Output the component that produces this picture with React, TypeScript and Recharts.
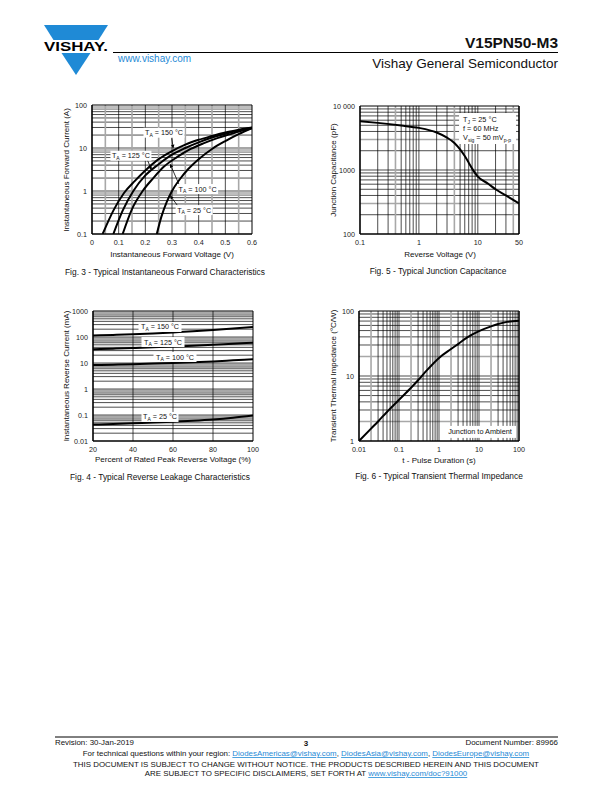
import React from 'react';
import { LineChart, Line, XAxis, YAxis, ReferenceLine, ReferenceDot } from 'recharts';

const FONT = '"Liberation Sans", Arial, Helvetica, sans-serif';
const BLUE = '#1f8ad6';
const GRAY = '#a8a8a8';

// ---------- Fig. 3 : forward characteristics ----------
const f3Volt150 = [0.04, 0.08, 0.12, 0.16, 0.2, 0.25, 0.3, 0.35, 0.4, 0.45, 0.5, 0.55, 0.6];
const f3Amp150 = [0.1, 0.35, 0.9, 1.7, 3, 5.5, 8.5, 12, 15.5, 19, 23, 26.5, 30];
const f3Volt125 = [0.08, 0.115, 0.155, 0.2, 0.25, 0.3, 0.35, 0.4, 0.45, 0.5, 0.55, 0.6];
const f3Amp125 = [0.1, 0.35, 1, 2.3, 4.2, 7, 10, 13.5, 17.5, 21.5, 25.5, 29.5];
const f3Volt100 = [0.115, 0.15, 0.19, 0.23, 0.27, 0.32, 0.37, 0.42, 0.47, 0.52, 0.56, 0.6];
const f3Amp100 = [0.1, 0.38, 1, 2, 3.7, 6.2, 9.5, 13, 17, 21, 25, 29];
const f3Volt25 = [0.243, 0.26, 0.28, 0.3, 0.33, 0.36, 0.4, 0.45, 0.5, 0.55, 0.6];
const f3Amp25 = [0.1, 0.25, 0.55, 1.0, 1.9, 3.2, 5.5, 9.5, 14.5, 21, 29];
const f3XTicks = [0, 0.1, 0.2, 0.3, 0.4, 0.5, 0.6];
const f3YTicks = [0.1, 1, 10, 100];
const f3HBlack = [0.2, 0.3, 0.4, 0.5, 0.6, 0.7, 1, 2, 3, 4, 5, 6, 7, 10, 20, 30, 40, 50, 60, 70];
const f3HGray = [0.8, 0.9, 8, 9, 80, 90];
const f3VBlack = [0.1, 0.2, 0.3, 0.4, 0.5];
const f3VGray = [0.05, 0.15, 0.25, 0.35, 0.45, 0.55];

// ---------- Fig. 4 : reverse leakage ----------
const f4Pct = [20, 30, 40, 50, 60, 70, 80, 90, 100];
const f4Cur150 = [115, 120, 127, 137, 150, 165, 185, 210, 245];
const f4Cur125 = [34, 35.5, 37.5, 40, 43, 46, 50, 55, 60];
const f4Cur100 = [8.3, 8.6, 9, 9.5, 10, 10.7, 11.5, 12.7, 14];
const f4Cur25 = [0.043, 0.045, 0.048, 0.051, 0.055, 0.06, 0.067, 0.078, 0.095];
const f4XTicks = [20, 40, 60, 80, 100];
const f4YTicks = [0.01, 0.1, 1, 10, 100, 1000];
const f4HBlack = [0.02, 0.03, 0.04, 0.05, 0.06, 0.07, 0.1, 0.2, 0.3, 0.4, 0.5, 0.6, 0.7, 1, 2, 3, 4, 5, 6, 7, 10, 20, 30, 40, 50, 60, 70, 100, 200, 300, 400, 500, 600, 700];
const f4HGray = [0.08, 0.09, 0.8, 0.9, 8, 9, 80, 90, 800, 900];
const f4VBlack = [40, 60, 80];

// ---------- Fig. 5 : junction capacitance ----------
const f5Volt = [0.1, 0.2, 0.5, 1, 2, 3, 4, 5, 6, 7, 8, 10, 15, 20, 30, 50];
const f5Cap = [5800, 5450, 4950, 4550, 3850, 3200, 2650, 2100, 1650, 1300, 1050, 790, 610, 500, 400, 300];
const f5XTicks = [0.1, 1, 10, 50];
const f5YTicks = [100, 1000, 10000];
const f5HBlack = [200, 400, 500, 600, 700, 800, 900, 1000, 2000, 4000, 5000, 6000, 7000, 8000, 9000];
const f5HGray = [300, 3000];
const f5VBlack = [0.2, 0.3, 0.5, 0.6, 0.7, 0.8, 0.9, 1, 2, 3, 5, 6, 7, 8, 9, 10, 20, 30];
const f5VGray = [0.4, 4, 40];

// ---------- Fig. 6 : transient thermal impedance ----------
const f6Time = [0.01, 0.02, 0.03, 0.05, 0.1, 0.2, 0.3, 0.5, 1, 2, 3, 5, 10, 20, 30, 50, 100];
const f6Zth = [1, 1.55, 2.0, 2.8, 4.3, 6.6, 8.6, 12.3, 19, 26, 31, 39, 49, 58, 63, 68, 71];
const f6XTicks = [0.01, 0.1, 1, 10, 100];
const f6YTicks = [1, 10, 100];
const f6HBlack = [3, 4, 5, 6, 7, 8, 9, 10, 30, 40, 50, 60, 70, 80, 90];
const f6HGray = [2, 20];
const f6VBlack = [0.03, 0.04, 0.05, 0.06, 0.07, 0.08, 0.09, 0.1, 0.3, 0.4, 0.5, 0.6, 0.7, 0.8, 0.9, 1, 3, 4, 5, 6, 7, 8, 9, 10, 30, 40, 50, 60, 70, 80, 90];
const f6VGray = [0.02, 0.2, 2, 20];

const zip = (xs: number[], ys: number[]) => xs.map((x, i) => ({ x, y: ys[i] }));

const tickStyle = { fontSize: 7.2, fill: '#222', fontFamily: FONT };

const ArrowShape = (p: any) => {
  const { x1, y1, x2, y2 } = p;
  const a = Math.atan2(y2 - y1, x2 - x1);
  const L = 4, W = 1.7;
  const bx = x2 - L * Math.cos(a), by = y2 - L * Math.sin(a);
  const pts = `${x2},${y2} ${bx + W * Math.sin(a)},${by - W * Math.cos(a)} ${bx - W * Math.sin(a)},${by + W * Math.cos(a)}`;
  return (
    <g>
      <line x1={x1} y1={y1} x2={bx} y2={by} stroke="#000" strokeWidth={0.8} />
      <polygon points={pts} fill="#000" />
    </g>
  );
};

const taLabel = (rest: string, w: number) => (p: any) => (
  <g>
    <rect x={p.cx - w / 2} y={p.cy - 5} width={w} height={10} fill="#fff" />
    <text x={p.cx} y={p.cy + 2.5} textAnchor="middle" fontSize={7.2} fontFamily={FONT} fill="#111">
      T<tspan fontSize={5} dy={1.8}>A</tspan><tspan dy={-1.8}>{rest}</tspan>
    </text>
  </g>
);

const capBox = (p: any) => (
  <g>
    <rect x={p.cx} y={p.cy} width={57} height={31} fill="#fff" />
    <text x={p.cx + 4} y={p.cy + 9} fontSize={7.3} fontFamily={FONT} fill="#111">
      T<tspan fontSize={5} dy={1.8}>J</tspan><tspan dy={-1.8}> = 25 °C</tspan>
    </text>
    <text x={p.cx + 4} y={p.cy + 18} fontSize={7.3} fontFamily={FONT} fill="#111">f = 60 MHz</text>
    <text x={p.cx + 4} y={p.cy + 27} fontSize={7.3} fontFamily={FONT} fill="#111">
      V<tspan fontSize={5} dy={1.8}>sig</tspan><tspan dy={-1.8}> = 50 mV</tspan><tspan fontSize={5} dy={1.8}>p-p</tspan>
    </text>
  </g>
);

const jaBox = (p: any) => (
  <g>
    <rect x={p.cx - 36} y={p.cy - 6} width={72} height={12} fill="#fff" />
    <text x={p.cx} y={p.cy + 2.5} textAnchor="middle" fontSize={7.3} fontFamily={FONT} fill="#111">Junction to Ambient</text>
  </g>
);

function gridLines(black: number[], gray: number[], axis: 'x' | 'y', prefix: string) {
  const out: any[] = [];
  gray.forEach((v) => {
    const p: any = { key: `${prefix}g${v}`, stroke: GRAY, strokeWidth: 1.6 };
    p[axis] = v;
    out.push(<ReferenceLine {...p} />);
  });
  black.forEach((v) => {
    const p: any = { key: `${prefix}b${v}`, stroke: '#000', strokeWidth: 0.7 };
    p[axis] = v;
    out.push(<ReferenceLine {...p} />);
  });
  return out;
}

const axisLine = { stroke: '#000', strokeWidth: 1.6 };
const fmtCap = (v: number) => (v === 10000 ? '10 000' : String(v));

function Fig3() {
  return (
    <LineChart width={222} height={159} margin={{ top: 10, right: 10, bottom: 0, left: 0 }}>
      <XAxis type="number" dataKey="x" domain={[0, 0.6]} ticks={f3XTicks} interval={0} tickLine={false} axisLine={axisLine} tick={tickStyle} tickSize={3} tickMargin={3} height={20} allowDataOverflow />
      <YAxis type="number" scale="log" domain={[0.1, 100]} ticks={f3YTicks} interval={0} tickLine={false} axisLine={axisLine} tick={tickStyle} tickSize={3} tickMargin={2} width={52} allowDataOverflow />
      {gridLines(f3HBlack, f3HGray, 'y', 'h')}
      {gridLines(f3VBlack, f3VGray, 'x', 'v')}
      <ReferenceLine y={100} stroke="#000" strokeWidth={1} />
      <ReferenceLine x={0.6} stroke="#000" strokeWidth={1} />
      <Line data={zip(f3Volt150, f3Amp150)} dataKey="y" type="monotone" stroke="#000" strokeWidth={2} dot={false} isAnimationActive={false} />
      <Line data={zip(f3Volt125, f3Amp125)} dataKey="y" type="monotone" stroke="#000" strokeWidth={2} dot={false} isAnimationActive={false} />
      <Line data={zip(f3Volt100, f3Amp100)} dataKey="y" type="monotone" stroke="#000" strokeWidth={2} dot={false} isAnimationActive={false} />
      <Line data={zip(f3Volt25, f3Amp25)} dataKey="y" type="monotone" stroke="#000" strokeWidth={2} dot={false} isAnimationActive={false} />
      <ReferenceLine segment={[{ x: 0.299, y: 16.8 }, { x: 0.305, y: 9.6 }]} shape={ArrowShape} />
      <ReferenceLine segment={[{ x: 0.205, y: 5.8 }, { x: 0.224, y: 3.0 }]} shape={ArrowShape} />
      <ReferenceLine segment={[{ x: 0.33, y: 1.26 }, { x: 0.2925, y: 4.3 }]} shape={ArrowShape} />
      <ReferenceLine segment={[{ x: 0.324, y: 0.43 }, { x: 0.292, y: 0.8 }]} shape={ArrowShape} />
      <ReferenceDot x={0.27} y={22.7} r={1} shape={taLabel(' = 150 °C', 41)} />
      <ReferenceDot x={0.146} y={6.6} r={1} shape={taLabel(' = 125 °C', 41)} />
      <ReferenceDot x={0.396} y={1.11} r={1} shape={taLabel(' = 100 °C', 41)} />
      <ReferenceDot x={0.383} y={0.36} r={1} shape={taLabel(' = 25 °C', 37)} />
    </LineChart>
  );
}

function Fig4() {
  return (
    <LineChart width={223} height={160} margin={{ top: 10, right: 10, bottom: 0, left: 0 }}>
      <XAxis type="number" dataKey="x" domain={[20, 100]} ticks={f4XTicks} interval={0} tickLine={false} axisLine={axisLine} tick={tickStyle} tickSize={3} tickMargin={3} height={20} allowDataOverflow />
      <YAxis type="number" scale="log" domain={[0.01, 1000]} ticks={f4YTicks} interval={0} tickLine={false} axisLine={axisLine} tick={tickStyle} tickSize={3} tickMargin={2} width={53} allowDataOverflow />
      {gridLines(f4HBlack, f4HGray, 'y', 'h')}
      {gridLines(f4VBlack, [], 'x', 'v')}
      <ReferenceLine y={1000} stroke="#000" strokeWidth={1} />
      <ReferenceLine x={100} stroke="#000" strokeWidth={1} />
      <Line data={zip(f4Pct, f4Cur150)} dataKey="y" type="monotone" stroke="#000" strokeWidth={2} dot={false} isAnimationActive={false} />
      <Line data={zip(f4Pct, f4Cur125)} dataKey="y" type="monotone" stroke="#000" strokeWidth={2} dot={false} isAnimationActive={false} />
      <Line data={zip(f4Pct, f4Cur100)} dataKey="y" type="monotone" stroke="#000" strokeWidth={2} dot={false} isAnimationActive={false} />
      <Line data={zip(f4Pct, f4Cur25)} dataKey="y" type="monotone" stroke="#000" strokeWidth={2} dot={false} isAnimationActive={false} />
      <ReferenceDot x={53.5} y={243} r={1} shape={taLabel(' = 150 °C', 43)} />
      <ReferenceDot x={55} y={64} r={1} shape={taLabel(' = 125 °C', 43)} />
      <ReferenceDot x={61} y={17} r={1} shape={taLabel(' = 100 °C', 43)} />
      <ReferenceDot x={53.5} y={0.084} r={1} shape={taLabel(' = 25 °C', 37)} />
    </LineChart>
  );
}

function Fig5() {
  return (
    <LineChart width={229} height={158} margin={{ top: 10, right: 10, bottom: 0, left: 0 }}>
      <XAxis type="number" scale="log" dataKey="x" domain={[0.1, 50]} ticks={f5XTicks} interval={0} tickLine={false} axisLine={axisLine} tick={tickStyle} tickSize={3} tickMargin={3} height={20} allowDataOverflow />
      <YAxis type="number" scale="log" domain={[100, 10000]} ticks={f5YTicks} interval={0} tickLine={false} axisLine={axisLine} tick={tickStyle} tickSize={3} tickMargin={2} width={60} allowDataOverflow tickFormatter={fmtCap} />
      {gridLines(f5HBlack, f5HGray, 'y', 'h')}
      {gridLines(f5VBlack, f5VGray, 'x', 'v')}
      <ReferenceLine y={10000} stroke="#000" strokeWidth={1} />
      <ReferenceLine x={50} stroke="#000" strokeWidth={1.6} />
      <Line data={zip(f5Volt, f5Cap)} dataKey="y" type="monotone" stroke="#000" strokeWidth={2} dot={false} isAnimationActive={false} />
      <ReferenceDot x={4.8} y={7770} r={1} shape={capBox} />
    </LineChart>
  );
}

function Fig6() {
  return (
    <LineChart width={229} height={160} margin={{ top: 10, right: 10, bottom: 0, left: 0 }}>
      <XAxis type="number" scale="log" dataKey="x" domain={[0.01, 100]} ticks={f6XTicks} interval={0} tickLine={false} axisLine={axisLine} tick={tickStyle} tickSize={3} tickMargin={3} height={20} allowDataOverflow />
      <YAxis type="number" scale="log" domain={[1, 100]} ticks={f6YTicks} interval={0} tickLine={false} axisLine={axisLine} tick={tickStyle} tickSize={3} tickMargin={2} width={59} allowDataOverflow />
      {gridLines(f6HBlack, f6HGray, 'y', 'h')}
      {gridLines(f6VBlack, f6VGray, 'x', 'v')}
      <ReferenceLine y={100} stroke="#000" strokeWidth={1} />
      <ReferenceLine x={100} stroke="#000" strokeWidth={1.6} />
      <ReferenceDot x={10.6} y={1.38} r={1} shape={jaBox} />
      <Line data={zip(f6Time, f6Zth)} dataKey="y" type="monotone" stroke="#000" strokeWidth={2} dot={false} isAnimationActive={false} />
    </LineChart>
  );
}

const abs = (left: number, top: number): React.CSSProperties => ({ position: 'absolute', left, top });

function PageText() {
  const t = { fontFamily: FONT, fill: '#111' } as any;
  const cap = 8.4;
  const ttl = 8;
  const ft = 7.9;
  return (
    <svg width={612} height={792} style={{ position: 'absolute', left: 0, top: 0 }}>
      {/* logo */}
      <polygon points="44,25 108,25 98.5,40 53.5,40" fill={BLUE} />
      <polygon points="61.5,53 90.5,53 76,75" fill={BLUE} />
      <text x={44} y={51} fontSize={12.5} fontWeight="bold" textLength={64} lengthAdjust="spacingAndGlyphs" {...t} fill="#000">VISHAY.</text>
      <line x1={113} y1={52.5} x2={558} y2={52.5} stroke="#000" strokeWidth={1} />
      <text x={558} y={47.5} textAnchor="end" fontSize={15.5} fontWeight="bold" {...t}>V15PN50-M3</text>
      <text x={118} y={62} fontSize={10} {...t} fill={BLUE}>www.vishay.com</text>
      <text x={558} y={68} textAnchor="end" fontSize={13.5} {...t}>Vishay General Semiconductor</text>

      {/* axis titles */}
      <text x={172} y={257} textAnchor="middle" fontSize={ttl} {...t}>Instantaneous Forward Voltage (V)</text>
      <text transform="translate(69,170) rotate(-90)" textAnchor="middle" fontSize={ttl} {...t}>Instantaneous Forward Current (A)</text>
      <text x={165} y={275} textAnchor="middle" fontSize={cap} {...t}>Fig. 3 - Typical Instantaneous Forward Characteristics</text>

      <text x={440} y={257} textAnchor="middle" fontSize={ttl} {...t}>Reverse Voltage (V)</text>
      <text transform="translate(336,170) rotate(-90)" textAnchor="middle" fontSize={ttl} {...t}>Junction Capacitance (pF)</text>
      <text x={438} y={274} textAnchor="middle" fontSize={cap} {...t}>Fig. 5 - Typical Junction Capacitance</text>

      <text x={173} y={462} textAnchor="middle" fontSize={ttl} {...t}>Percent of Rated Peak Reverse Voltage (%)</text>
      <text transform="translate(69,376) rotate(-90)" textAnchor="middle" fontSize={ttl} {...t}>Instantaneous Reverse Current (mA)</text>
      <text x={160} y={480} textAnchor="middle" fontSize={cap} {...t}>Fig. 4 - Typical Reverse Leakage Characteristics</text>

      <text x={439} y={463} textAnchor="middle" fontSize={ttl} {...t}>t - Pulse Duration (s)</text>
      <text transform="translate(336,376) rotate(-90)" textAnchor="middle" fontSize={ttl} {...t}>Transient Thermal Impedance (°C/W)</text>
      <text x={439} y={479} textAnchor="middle" fontSize={cap} {...t}>Fig. 6 - Typical Transient Thermal Impedance</text>

      {/* footer */}
      <line x1={55} y1={737} x2={558} y2={737} stroke="#000" strokeWidth={1} />
      <text x={55} y={745} fontSize={ft} {...t}>Revision: 30-Jan-2019</text>
      <text x={306} y={745.5} textAnchor="middle" fontSize={8} fontWeight="bold" {...t}>3</text>
      <text x={558} y={745} textAnchor="end" fontSize={ft} {...t}>Document Number: 89966</text>
      <text x={306} y={756} textAnchor="middle" fontSize={ft} {...t}>
        For technical questions within your region: <tspan fill={BLUE} textDecoration="underline">DiodesAmericas@vishay.com</tspan>, <tspan fill={BLUE} textDecoration="underline">DiodesAsia@vishay.com</tspan>, <tspan fill={BLUE} textDecoration="underline">DiodesEurope@vishay.com</tspan>
      </text>
      <text x={306} y={767} textAnchor="middle" fontSize={ft} {...t}>THIS DOCUMENT IS SUBJECT TO CHANGE WITHOUT NOTICE. THE PRODUCTS DESCRIBED HEREIN AND THIS DOCUMENT</text>
      <text x={306} y={776} textAnchor="middle" fontSize={ft} {...t}>
        ARE SUBJECT TO SPECIFIC DISCLAIMERS, SET FORTH AT <tspan fill={BLUE} textDecoration="underline">www.vishay.com/doc?91000</tspan>
      </text>
    </svg>
  );
}

export default function App() {
  return (
    <div style={{ position: 'absolute', left: 0, top: 0, width: 612, height: 792, background: '#fff', fontFamily: FONT }}>
      <PageText />
      <div style={abs(40, 95)}><Fig3 /></div>
      <div style={abs(300, 96)}><Fig5 /></div>
      <div style={abs(40, 301)}><Fig4 /></div>
      <div style={abs(300, 301)}><Fig6 /></div>
    </div>
  );
}
